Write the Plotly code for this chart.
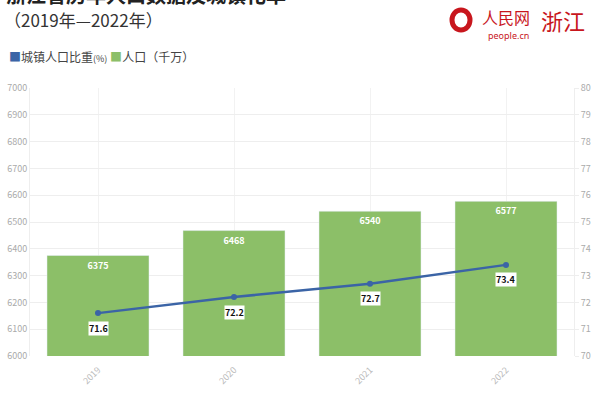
import plotly.graph_objects as go

years = ["2019", "2020", "2021", "2022"]
population = [6375, 6468, 6540, 6577]
urban_rate = [71.6, 72.2, 72.7, 73.4]
left_ticks = list(range(6000, 7001, 100))
right_ticks = list(range(70, 81, 1))

FONT = "Noto Sans CJK SC"
BLUE = "#3b64a6"
GREEN = "#8cbf68"
RED = "#c8161d"

fig = go.Figure()

fig.add_trace(go.Bar(
    x=years, y=population, name="人口（千万）", marker_color=GREEN,
    width=0.75, text=[str(v) for v in population], textposition="inside",
    insidetextanchor="end", textangle=0,
    textfont=dict(color="white", size=9, family=FONT, weight="bold"),
    showlegend=False, yaxis="y",
))
fig.add_trace(go.Scatter(
    x=years, y=urban_rate, mode="lines+markers", name="城镇人口比重(%)",
    line=dict(color=BLUE, width=2.5), marker=dict(color=BLUE, size=6),
    yaxis="y2", showlegend=False,
))

annotations = []
for i, v in enumerate(urban_rate):
    annotations.append(dict(
        x=i, y=v, xref="x", yref="y2", text=f"<b>{v}</b>", showarrow=False,
        yshift=-15, font=dict(size=9, color="#111", family=FONT),
        bgcolor="white", borderpad=0,
    ))


def px(x):
    return (x - 30) / 544


def py(y):
    return (356 - y) / 268


annotations += [
    dict(x=px(4), y=py(-6), xref="paper", yref="paper", xanchor="left", yanchor="middle",
         text="<b>浙江省历年人口数据及城镇化率</b>", showarrow=False,
         font=dict(size=20, color="#222", family=FONT)),
    dict(x=px(2), y=py(19), xref="paper", yref="paper", xanchor="left", yanchor="middle",
         text="（2019年—2022年）", showarrow=False,
         font=dict(size=17, color="#333", family=FONT)),
    dict(x=px(7), y=py(57), xref="paper", yref="paper", xanchor="left", yanchor="middle",
         showarrow=False,
         text=(f"<span style='color:{BLUE}'>■</span>城镇人口比重<span style='font-size:9px'>(%)</span> "
               f"<span style='color:{GREEN}'>■</span>人口（千万）"),
         font=dict(size=12, color="#444", family=FONT)),
    dict(x=px(480), y=py(17), xref="paper", yref="paper", xanchor="left", yanchor="middle",
         showarrow=False, text="人民网", font=dict(size=16, color=RED, family=FONT)),
    dict(x=px(486), y=py(35), xref="paper", yref="paper", xanchor="left", yanchor="middle",
         showarrow=False, text="people.cn", font=dict(size=9, color=RED, family="Noto Sans")),
    dict(x=px(539), y=py(20), xref="paper", yref="paper", xanchor="left", yanchor="middle",
         showarrow=False, text="浙江", font=dict(size=22, color=RED, family=FONT)),
]

fig.update_layout(
    width=600, height=400,
    margin=dict(l=30, r=26, t=88, b=44),
    paper_bgcolor="white", plot_bgcolor="white",
    font=dict(family=FONT),
    showlegend=False,
    xaxis=dict(
        type="category", categoryorder="array", categoryarray=years, range=[-0.5, 3.5],
        tickangle=-45, showgrid=True, gridcolor="#f2f2f2", automargin=False,
        tickfont=dict(size=9, color="#bbb", family=FONT), ticks="", showline=False,
        zeroline=False, ticklabelstandoff=6,
    ),
    yaxis=dict(
        range=[6000, 7000], tickvals=left_ticks, showgrid=True, gridcolor="#eeeeee",
        tickfont=dict(size=9, color="#aaa", family=FONT), showline=True, automargin=False,
        linecolor="#eeeeee", ticks="", zeroline=False,
    ),
    yaxis2=dict(
        range=[70, 80], tickvals=right_ticks, overlaying="y", side="right",
        showgrid=False, tickfont=dict(size=9, color="#aaa", family=FONT), automargin=False,
        showline=True, linecolor="#eeeeee", ticks="outside", ticklen=4,
        tickcolor="#eeeeee", zeroline=False,
    ),
    annotations=annotations,
)

# Logo swirl
fig.add_shape(type="circle", xref="paper", yref="paper",
              x0=px(452), x1=px(470), y0=py(30), y1=py(10),
              line=dict(color=RED, width=5))

fig.write_html("out.html")
